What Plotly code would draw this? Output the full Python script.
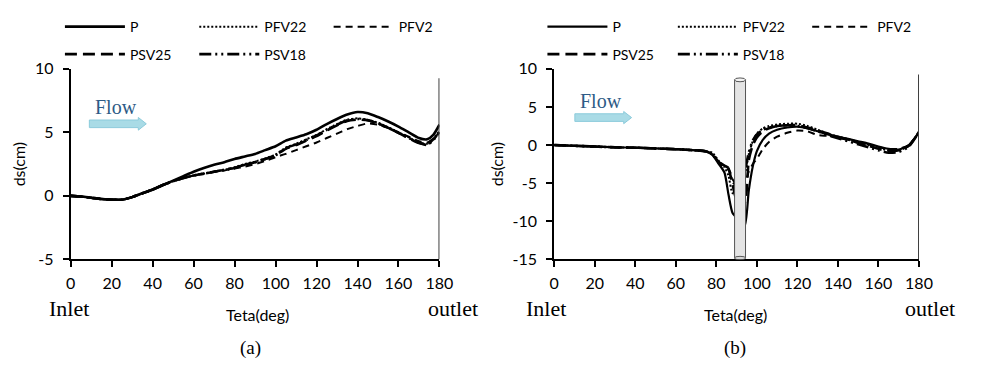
import plotly.graph_objects as go

# ---------------- data: panel (a) ----------------
theta_a = [0, 5, 10, 15, 20, 25, 30, 35, 40, 45, 50, 55, 60, 65, 70, 75, 80, 85, 90, 95,
           100, 105, 110, 115, 120, 125, 130, 135, 140, 145, 150, 155, 160, 165, 170, 174, 177, 180]
P_a = [0, -0.05, -0.15, -0.25, -0.3, -0.3, -0.1, 0.2, 0.5, 0.85, 1.2, 1.55, 1.9, 2.2, 2.45, 2.65,
       2.9, 3.1, 3.3, 3.6, 3.9, 4.35, 4.6, 4.85, 5.2, 5.65, 6.05, 6.4, 6.6, 6.5, 6.2, 5.85, 5.45,
       5.0, 4.55, 4.45, 4.8, 5.6]
PFV22_a = [0, -0.05, -0.15, -0.25, -0.3, -0.3, -0.1, 0.2, 0.5, 0.85, 1.15, 1.4, 1.6, 1.75, 1.9,
           2.05, 2.25, 2.5, 2.7, 2.95, 3.25, 3.8, 4.1, 4.45, 4.8, 5.25, 5.65, 6.0, 6.1, 6.0, 5.75,
           5.4, 5.0, 4.6, 4.2, 4.1, 4.5, 5.1]
PFV2_a = [0, -0.05, -0.15, -0.25, -0.3, -0.3, -0.1, 0.2, 0.5, 0.85, 1.15, 1.4, 1.6, 1.75, 1.9,
          2.0, 2.15, 2.3, 2.5, 2.75, 3.05, 3.3, 3.6, 3.9, 4.2, 4.55, 4.9, 5.25, 5.5, 5.7, 5.6,
          5.35, 5.0, 4.65, 4.3, 4.2, 4.5, 5.0]
PSV25_a = [0, -0.05, -0.15, -0.25, -0.3, -0.3, -0.1, 0.2, 0.5, 0.85, 1.15, 1.4, 1.6, 1.75, 1.9,
           2.05, 2.2, 2.45, 2.65, 2.9, 3.2, 3.7, 4.0, 4.35, 4.7, 5.15, 5.55, 5.9, 6.0, 5.95, 5.7,
           5.35, 4.95, 4.55, 4.15, 4.05, 4.45, 5.0]
PSV18_a = [0, -0.05, -0.15, -0.25, -0.3, -0.3, -0.1, 0.2, 0.5, 0.85, 1.15, 1.4, 1.6, 1.75, 1.9,
           2.05, 2.2, 2.45, 2.65, 2.9, 3.2, 3.75, 4.05, 4.4, 4.75, 5.2, 5.6, 5.95, 6.05, 5.95, 5.7,
           5.35, 4.95, 4.55, 4.2, 4.0, 4.4, 5.0]

# ---------------- data: panel (b) ----------------
theta_b = [0, 10, 20, 30, 40, 50, 60, 70, 75, 78, 81, 84, 86, 88, 91, 94, 96, 98, 100, 103,
           106, 110, 115, 120, 125, 130, 135, 140, 145, 150, 155, 160, 165, 170, 175, 180]
P_b = [0, -0.1, -0.2, -0.3, -0.35, -0.45, -0.55, -0.7, -0.85, -1.3, -2.4, -3.6, -6.5, -8.9,
       -9.8, -10.6, -6.0, -2.8, -0.8, 0.7, 1.5, 2.0, 2.3, 2.4, 2.2, 1.8, 1.4, 1.1, 0.8, 0.5,
       0.2, -0.2, -0.5, -0.6, 0.0, 1.7]
PFV22_b = [0, -0.1, -0.2, -0.3, -0.35, -0.45, -0.55, -0.7, -0.8, -1.0, -2.0, -2.9, -4.0, -6.3,
           -6.5, -4.0, -1.2, 0.5, 1.5, 2.2, 2.5, 2.7, 2.8, 2.8, 2.5, 2.0, 1.5, 1.1, 0.8, 0.4,
           0.0, -0.4, -0.7, -0.7, -0.1, 1.7]
PFV2_b = [0, -0.1, -0.2, -0.3, -0.35, -0.45, -0.55, -0.7, -0.85, -1.2, -2.3, -2.7, -3.0, -4.5,
          -5.5, -5.0, -3.5, -2.5, -1.8, -0.5, 0.4, 1.1, 1.6, 1.9, 1.8, 1.3, 1.2, 1.0, 0.7, 0.3,
          0.1, -0.3, -0.5, -0.5, 0.0, 1.6]
PSV25_b = [0, -0.1, -0.2, -0.3, -0.35, -0.45, -0.55, -0.7, -0.85, -1.2, -2.2, -3.0, -3.2, -5.2,
           -8.0, -7.6, -2.0, 0.0, 1.0, 1.8, 2.2, 2.5, 2.6, 2.6, 2.3, 1.9, 1.5, 1.0, 0.7, 0.3,
           -0.1, -0.5, -0.8, -0.7, -0.1, 1.7]
PSV18_b = [0, -0.1, -0.2, -0.3, -0.35, -0.45, -0.55, -0.7, -0.85, -1.2, -2.2, -2.7, -3.0, -4.8,
           -5.5, -3.5, -1.0, 0.6, 1.4, 2.0, 2.3, 2.5, 2.6, 2.5, 2.2, 1.8, 1.3, 0.9, 0.5, 0.1,
           -0.3, -0.7, -1.0, -0.9, -0.2, 1.7]

names = ["P", "PFV22", "PFV2", "PSV25", "PSV18"]
x_ticks = [0, 20, 40, 60, 80, 100, 120, 140, 160, 180]
x_ticktext = ["0", "20", "40", "60", "80", "100", "120", "140", "160", "180"]
y_ticks_a = [-5, 0, 5, 10]
y_ticktext_a = ["-5", "0", "5", "10"]
y_ticks_b = [-15, -10, -5, 0, 5, 10]
y_ticktext_b = ["-15", "-10", "-5", "0", "5", "10"]

# ---------------- styles ----------------
dashes = ["solid", "2px,2px", "7px,5px", "12px,6px", "12px,4px,2px,4px,2px,4px"]
widths_a = [2.6, 2.0, 2.0, 2.6, 2.6]
widths_b = [2.2, 2.0, 2.0, 2.6, 2.6]

SANS = "Lato"
SERIF = "Liberation Serif"
W, H = 984, 367
def px(x):
    return x / W
def py(y):
    return 1 - y / H

# legend slot positions (text start pixel, row centre pixel) for each series
leg_text_a = [(128, 18), (265, 18), (402, 18), (128, 47), (265, 47)]
leg_text_b = [(620, 18), (753, 18), (890, 18), (620, 47), (753, 47)]

fig = go.Figure()
series_a = [P_a, PFV22_a, PFV2_a, PSV25_a, PSV18_a]
series_b = [P_b, PFV22_b, PFV2_b, PSV25_b, PSV18_b]
for i, nm in enumerate(names):
    fig.add_trace(go.Scatter(x=theta_a, y=series_a[i], mode="lines", name=nm,
                             line=dict(color="black", width=widths_a[i], dash=dashes[i],
                                       shape="spline", smoothing=0.6),
                             xaxis="x", yaxis="y", legend="legend" if i == 0 else f"legend{i+1}"))
for i, nm in enumerate(names):
    fig.add_trace(go.Scatter(x=theta_b, y=series_b[i], mode="lines", name=nm,
                             line=dict(color="black", width=widths_b[i], dash=dashes[i],
                                       shape="spline", smoothing=0.6),
                             xaxis="x2", yaxis="y2", legend=f"legend{i+6}"))

axis_common = dict(showgrid=False, zeroline=False, showline=True, linecolor="black",
                   linewidth=2, ticks="outside", ticklen=6, tickwidth=2, tickcolor="black",
                   tickfont=dict(family=SANS, size=16, color="black"), fixedrange=True)

ydom = [py(263), py(62)]
fig.update_layout(
    width=W, height=H, margin=dict(l=0, r=0, t=0, b=0),
    paper_bgcolor="white", plot_bgcolor="white",
    xaxis=dict(domain=[px(67), px(443)], range=[0, 180], tickvals=x_ticks, ticktext=x_ticktext,
               anchor="y", ticklabelstandoff=2, **axis_common),
    yaxis=dict(domain=ydom, range=[-5, 10], tickvals=y_ticks_a, ticktext=y_ticktext_a,
               anchor="x", ticklabelstandoff=6,
               title=dict(text="ds(cm)", font=dict(family=SANS, size=16, color="black"),
                          standoff=5), **axis_common),
    xaxis2=dict(domain=[px(560), px(932)], range=[0, 180], tickvals=x_ticks, ticktext=x_ticktext,
                anchor="y2", ticklabelstandoff=2, **axis_common),
    yaxis2=dict(domain=ydom, range=[-15, 10], tickvals=y_ticks_b, ticktext=y_ticktext_b,
                anchor="x2", ticklabelstandoff=6,
                title=dict(text="ds(cm)", font=dict(family=SANS, size=16, color="black"),
                           standoff=5), **axis_common),
    showlegend=True,
)

leg_common = dict(orientation="h", xanchor="left", yanchor="middle", bgcolor="rgba(0,0,0,0)",
                  font=dict(family=SANS, size=14, color="black"), itemwidth=60,
                  itemclick=False, itemdoubleclick=False)
TEXT_OFFSET = 72
legs = {}
for i, (tx, ty) in enumerate(leg_text_a + leg_text_b):
    key = "legend" if i == 0 else f"legend{i+1}"
    legs[key] = dict(x=px(tx - TEXT_OFFSET), y=py(ty), **leg_common)
fig.update_layout(**legs)

shapes = []
# outlet vertical markers
shapes.append(dict(type="line", xref="x", yref="y", x0=180, x1=180, y0=-5, y1=9.25,
                   line=dict(color="#404040", width=2)))
shapes.append(dict(type="line", xref="x2", yref="y2", x0=180, x1=180, y0=-15, y1=9.25,
                   line=dict(color="#404040", width=2)))
# cylinder in panel (b)
shapes.append(dict(type="rect", xref="x2", yref="y2", x0=89.0, x1=94.4, y0=-14.85, y1=8.55,
                   fillcolor="#e4e4e4", line=dict(color="#555555", width=1), layer="above"))
shapes.append(dict(type="circle", xref="x2", yref="y2", x0=89.0, x1=94.4, y0=8.3, y1=8.8,
                   fillcolor="#f4f4f4", line=dict(color="#555555", width=1), layer="above"))
shapes.append(dict(type="circle", xref="x2", yref="y2", x0=89.0, x1=94.4, y0=-15.05, y1=-14.6,
                   fillcolor="#d8d8d8", line=dict(color="#555555", width=1), layer="above"))

# flow arrows
def arrow_path(x0, x1, xh, yc, hs, hh):
    return (f"M{x0},{yc-hs} L{xh},{yc-hs} L{xh},{yc-hh} L{x1},{yc} L{xh},{yc+hh} "
            f"L{xh},{yc+hs} L{x0},{yc+hs} Z")
shapes.append(dict(type="path", xref="x", yref="y",
                   path=arrow_path(9.1, 36.9, 33.0, 5.67, 0.3, 0.5),
                   fillcolor="#a9dbe6", line=dict(color="#8ccbdb", width=1)))
shapes.append(dict(type="path", xref="x2", yref="y2",
                   path=arrow_path(10.2, 38.2, 34.3, 3.6, 0.5, 0.8),
                   fillcolor="#a9dbe6", line=dict(color="#8ccbdb", width=1)))
fig.update_layout(shapes=shapes)

ann = []
def txt(x, y, s, family, size, color="black"):
    ann.append(dict(x=px(x), y=py(y), xref="paper", yref="paper", text=s, showarrow=False,
                    xanchor="center", yanchor="middle",
                    font=dict(family=family, size=size, color=color)))
txt(113, 102, "Flow", SERIF, 20, "#2e5b86")
txt(608, 96, "Flow", SERIF, 20, "#2e5b86")
txt(65, 315, "Inlet", SERIF, 22)
txt(457, 315, "outlet", SERIF, 22)
txt(552, 315, "Inlet", SERIF, 22)
txt(943, 315, "outlet", SERIF, 22)
txt(257, 321, "Teta(deg)", SANS, 16)
txt(745, 321, "Teta(deg)", SANS, 16)
txt(250, 356, "(a)", SERIF, 19)
txt(744, 356, "(b)", SERIF, 19)
fig.update_layout(annotations=ann)

fig.write_html("out.html")
